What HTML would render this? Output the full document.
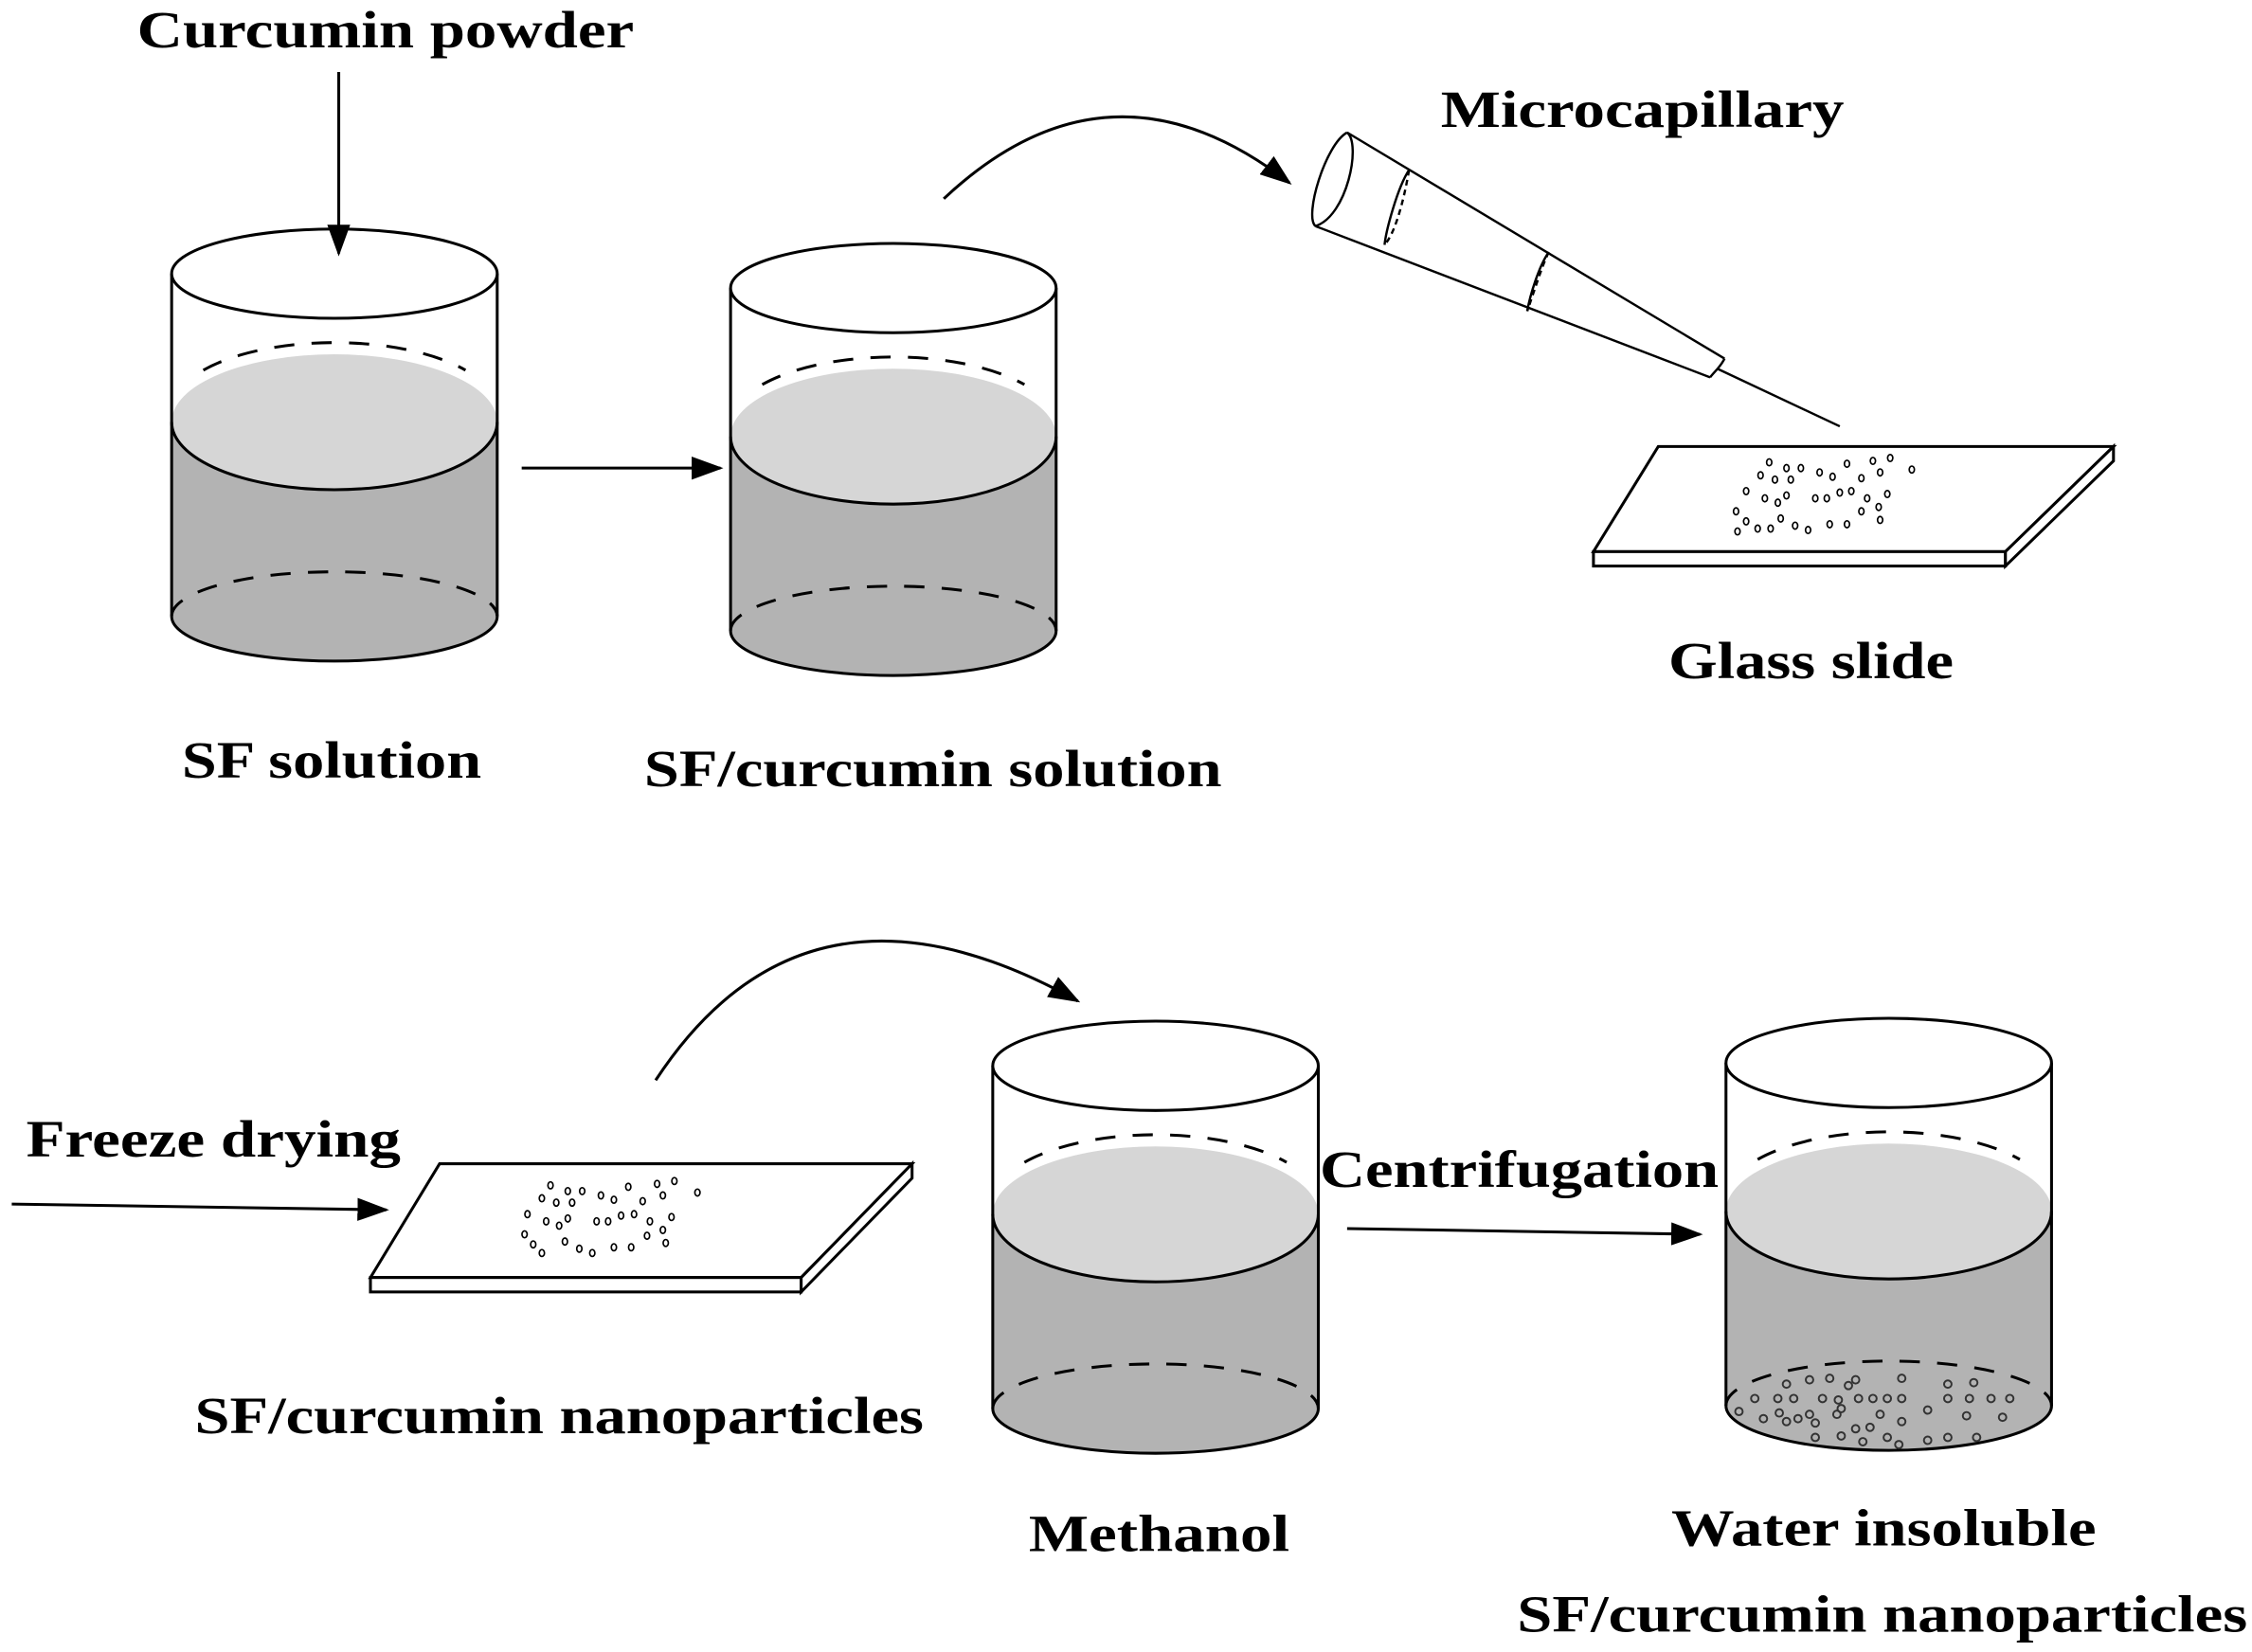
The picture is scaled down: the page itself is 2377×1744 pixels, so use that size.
<!DOCTYPE html>
<html><head><meta charset="utf-8"><style>html,body{margin:0;padding:0;background:#fff}svg{display:block}</style></head>
<body>
<svg width="2377" height="1744" viewBox="0 0 1563 1147" xmlns="http://www.w3.org/2000/svg">
<defs>
<marker id="ah2" markerWidth="22" markerHeight="16" refX="20" refY="8" orient="auto" markerUnits="userSpaceOnUse" viewBox="0 0 22 16"><path d="M0,0 L22,8 L0,16 Z" fill="#000"/></marker>
<g id="bk">
<path d="M0,103 L0,238 A113,31 0 0 0 226,238 L226,103 Z" fill="#b3b3b3"/>
<ellipse cx="113" cy="103" rx="113" ry="47" fill="#d6d6d6"/>
<path d="M0,103 A113,47 0 0 0 226,103" fill="none" stroke="#000" stroke-width="2"/>
<path d="M22,67 A113,47 0 0 1 204,67" fill="none" stroke="#000" stroke-width="2" stroke-dasharray="14,12"/>
<path d="M0,238 A113,31 0 0 1 226,238" fill="none" stroke="#000" stroke-width="2" stroke-dasharray="14,12"/>
<path d="M0,238 A113,31 0 0 0 226,238" fill="none" stroke="#000" stroke-width="2"/>
<line x1="0" y1="0" x2="0" y2="238" stroke="#000" stroke-width="2"/>
<line x1="226" y1="0" x2="226" y2="238" stroke="#000" stroke-width="2"/>
<ellipse cx="113" cy="0" rx="113" ry="31" fill="#fff" stroke="#000" stroke-width="2"/>
</g>
</defs>
<g font-family="'Liberation Serif', serif" font-weight="bold" font-size="36" fill="#000">
<text x="95" y="33" textLength="345" lengthAdjust="spacingAndGlyphs">Curcumin powder</text>
<text x="1000" y="88" textLength="280" lengthAdjust="spacingAndGlyphs">Microcapillary</text>
<text x="126" y="540" textLength="208" lengthAdjust="spacingAndGlyphs">SF solution</text>
<text x="447" y="546" textLength="401" lengthAdjust="spacingAndGlyphs">SF/curcumin solution</text>
<text x="1158" y="471" textLength="198" lengthAdjust="spacingAndGlyphs">Glass slide</text>
<text x="18" y="803" textLength="260" lengthAdjust="spacingAndGlyphs">Freeze drying</text>
<text x="135" y="995" textLength="506" lengthAdjust="spacingAndGlyphs">SF/curcumin nanoparticles</text>
<text x="714" y="1077" textLength="181" lengthAdjust="spacingAndGlyphs">Methanol</text>
<text x="916" y="824" textLength="277" lengthAdjust="spacingAndGlyphs">Centrifugation</text>
<text x="1160" y="1073" textLength="295" lengthAdjust="spacingAndGlyphs">Water insoluble</text>
<text x="1053" y="1133" textLength="507" lengthAdjust="spacingAndGlyphs">SF/curcumin nanoparticles</text>
</g>
<use href="#bk" x="119" y="190"/>
<use href="#bk" x="507" y="200"/>
<use href="#bk" x="689" y="740"/>
<use href="#bk" x="1198" y="738"/>
<g stroke="#000" stroke-width="2" fill="none">
<line x1="235" y1="50" x2="235" y2="176" marker-end="url(#ah2)"/>
<line x1="362" y1="325" x2="500" y2="325" marker-end="url(#ah2)"/>
<line x1="8" y1="836" x2="268" y2="840" marker-end="url(#ah2)"/>
<line x1="935" y1="853" x2="1180" y2="857" marker-end="url(#ah2)"/>
<path d="M655,138 Q770,30 895,127" marker-end="url(#ah2)"/>
<path d="M455,750 Q560,590 748,695" marker-end="url(#ah2)"/>
</g>
<g stroke="#000" stroke-width="2" fill="#fff">
<path d="M1151,310 L1467,310 L1392,383 L1106,383 Z"/>
<rect x="1106" y="383" width="286" height="10"/>
<path d="M1467,310 L1467,320 L1392,393 L1392,383 Z"/>
<path d="M305,808 L633,808 L556,887 L257,887 Z"/>
<rect x="257" y="887" width="299" height="10"/>
<path d="M633,808 L633,818 L556,897 L556,887 Z"/>
</g>
<g stroke="#000" stroke-width="1.6" fill="none">
<path d="M935,92 C920,100 905,150 913,157"/>
<path d="M935,92 C945,100 935,150 913,157"/>
<line x1="935" y1="92" x2="1197" y2="249"/>
<line x1="913" y1="157" x2="1187" y2="262"/>
<path d="M978,118 C970,130 962,160 961,170"/>
<path d="M978,118 C976,130 970,160 961,170" stroke-dasharray="4,3"/>
<path d="M1075,175 C1068,185 1062,205 1060,216"/>
<path d="M1075,175 C1070,185 1064,205 1060,216" stroke-dasharray="4,3"/>
<path d="M1197,249 C1194,255 1190,258 1187,262"/>
<line x1="1192" y1="256" x2="1277" y2="296"/>
</g>
<g fill="none" stroke="#000" stroke-width="1.1">
<ellipse cx="1228" cy="321" rx="1.8" ry="2.4"/><ellipse cx="1240" cy="325" rx="1.8" ry="2.4"/><ellipse cx="1250" cy="325" rx="1.8" ry="2.4"/><ellipse cx="1263" cy="328" rx="1.8" ry="2.4"/><ellipse cx="1282" cy="322" rx="1.8" ry="2.4"/><ellipse cx="1300" cy="320" rx="1.8" ry="2.4"/><ellipse cx="1312" cy="318" rx="1.8" ry="2.4"/><ellipse cx="1327" cy="326" rx="1.8" ry="2.4"/>
<ellipse cx="1222" cy="330" rx="1.8" ry="2.4"/><ellipse cx="1232" cy="333" rx="1.8" ry="2.4"/><ellipse cx="1243" cy="333" rx="1.8" ry="2.4"/><ellipse cx="1272" cy="331" rx="1.8" ry="2.4"/><ellipse cx="1292" cy="332" rx="1.8" ry="2.4"/><ellipse cx="1305" cy="328" rx="1.8" ry="2.4"/>
<ellipse cx="1212" cy="341" rx="1.8" ry="2.4"/><ellipse cx="1225" cy="346" rx="1.8" ry="2.4"/><ellipse cx="1234" cy="349" rx="1.8" ry="2.4"/><ellipse cx="1240" cy="344" rx="1.8" ry="2.4"/><ellipse cx="1260" cy="346" rx="1.8" ry="2.4"/><ellipse cx="1268" cy="346" rx="1.8" ry="2.4"/><ellipse cx="1277" cy="342" rx="1.8" ry="2.4"/><ellipse cx="1285" cy="341" rx="1.8" ry="2.4"/><ellipse cx="1296" cy="346" rx="1.8" ry="2.4"/><ellipse cx="1310" cy="343" rx="1.8" ry="2.4"/><ellipse cx="1304" cy="352" rx="1.8" ry="2.4"/>
<ellipse cx="1205" cy="355" rx="1.8" ry="2.4"/><ellipse cx="1212" cy="362" rx="1.8" ry="2.4"/><ellipse cx="1236" cy="360" rx="1.8" ry="2.4"/><ellipse cx="1246" cy="365" rx="1.8" ry="2.4"/><ellipse cx="1255" cy="368" rx="1.8" ry="2.4"/><ellipse cx="1270" cy="364" rx="1.8" ry="2.4"/><ellipse cx="1282" cy="364" rx="1.8" ry="2.4"/><ellipse cx="1292" cy="355" rx="1.8" ry="2.4"/><ellipse cx="1305" cy="361" rx="1.8" ry="2.4"/><ellipse cx="1206" cy="369" rx="1.8" ry="2.4"/><ellipse cx="1220" cy="367" rx="1.8" ry="2.4"/><ellipse cx="1229" cy="367" rx="1.8" ry="2.4"/>
<ellipse cx="382" cy="823" rx="1.8" ry="2.4"/><ellipse cx="394" cy="827" rx="1.8" ry="2.4"/><ellipse cx="404" cy="827" rx="1.8" ry="2.4"/><ellipse cx="417" cy="830" rx="1.8" ry="2.4"/><ellipse cx="436" cy="824" rx="1.8" ry="2.4"/><ellipse cx="456" cy="822" rx="1.8" ry="2.4"/><ellipse cx="468" cy="820" rx="1.8" ry="2.4"/><ellipse cx="484" cy="828" rx="1.8" ry="2.4"/>
<ellipse cx="376" cy="832" rx="1.8" ry="2.4"/><ellipse cx="386" cy="835" rx="1.8" ry="2.4"/><ellipse cx="397" cy="835" rx="1.8" ry="2.4"/><ellipse cx="426" cy="833" rx="1.8" ry="2.4"/><ellipse cx="446" cy="834" rx="1.8" ry="2.4"/><ellipse cx="460" cy="830" rx="1.8" ry="2.4"/>
<ellipse cx="366" cy="843" rx="1.8" ry="2.4"/><ellipse cx="379" cy="848" rx="1.8" ry="2.4"/><ellipse cx="388" cy="851" rx="1.8" ry="2.4"/><ellipse cx="394" cy="846" rx="1.8" ry="2.4"/><ellipse cx="414" cy="848" rx="1.8" ry="2.4"/><ellipse cx="422" cy="848" rx="1.8" ry="2.4"/><ellipse cx="431" cy="844" rx="1.8" ry="2.4"/><ellipse cx="440" cy="843" rx="1.8" ry="2.4"/><ellipse cx="451" cy="848" rx="1.8" ry="2.4"/><ellipse cx="466" cy="845" rx="1.8" ry="2.4"/><ellipse cx="460" cy="854" rx="1.8" ry="2.4"/>
<ellipse cx="364" cy="857" rx="1.8" ry="2.4"/><ellipse cx="370" cy="864" rx="1.8" ry="2.4"/><ellipse cx="392" cy="862" rx="1.8" ry="2.4"/><ellipse cx="402" cy="867" rx="1.8" ry="2.4"/><ellipse cx="411" cy="870" rx="1.8" ry="2.4"/><ellipse cx="426" cy="866" rx="1.8" ry="2.4"/><ellipse cx="438" cy="866" rx="1.8" ry="2.4"/><ellipse cx="449" cy="858" rx="1.8" ry="2.4"/><ellipse cx="462" cy="863" rx="1.8" ry="2.4"/><ellipse cx="376" cy="870" rx="1.8" ry="2.4"/>
</g>
<g fill="none" stroke="#333" stroke-width="1.3">
<circle cx="1240" cy="961" r="2.6"/><circle cx="1256" cy="958" r="2.6"/><circle cx="1270" cy="957" r="2.6"/><circle cx="1283" cy="962" r="2.6"/><circle cx="1288" cy="958" r="2.6"/><circle cx="1320" cy="957" r="2.6"/><circle cx="1352" cy="961" r="2.6"/><circle cx="1370" cy="960" r="2.6"/>
<circle cx="1218" cy="971" r="2.6"/><circle cx="1234" cy="971" r="2.6"/><circle cx="1245" cy="971" r="2.6"/><circle cx="1265" cy="971" r="2.6"/><circle cx="1276" cy="972" r="2.6"/><circle cx="1290" cy="971" r="2.6"/><circle cx="1300" cy="971" r="2.6"/><circle cx="1310" cy="971" r="2.6"/><circle cx="1320" cy="971" r="2.6"/><circle cx="1352" cy="971" r="2.6"/><circle cx="1367" cy="971" r="2.6"/><circle cx="1382" cy="971" r="2.6"/><circle cx="1395" cy="971" r="2.6"/>
<circle cx="1207" cy="980" r="2.6"/><circle cx="1224" cy="985" r="2.6"/><circle cx="1235" cy="981" r="2.6"/><circle cx="1248" cy="985" r="2.6"/><circle cx="1256" cy="982" r="2.6"/><circle cx="1275" cy="982" r="2.6"/><circle cx="1278" cy="978" r="2.6"/><circle cx="1305" cy="982" r="2.6"/><circle cx="1338" cy="979" r="2.6"/><circle cx="1365" cy="983" r="2.6"/><circle cx="1390" cy="984" r="2.6"/>
<circle cx="1240" cy="987" r="2.6"/><circle cx="1260" cy="988" r="2.6"/><circle cx="1288" cy="992" r="2.6"/><circle cx="1320" cy="987" r="2.6"/><circle cx="1260" cy="998" r="2.6"/><circle cx="1278" cy="997" r="2.6"/><circle cx="1293" cy="1001" r="2.6"/><circle cx="1310" cy="998" r="2.6"/><circle cx="1318" cy="1003" r="2.6"/><circle cx="1338" cy="1000" r="2.6"/><circle cx="1352" cy="998" r="2.6"/><circle cx="1372" cy="998" r="2.6"/><circle cx="1298" cy="991" r="2.6"/>
</g>
</svg>
</body></html>
